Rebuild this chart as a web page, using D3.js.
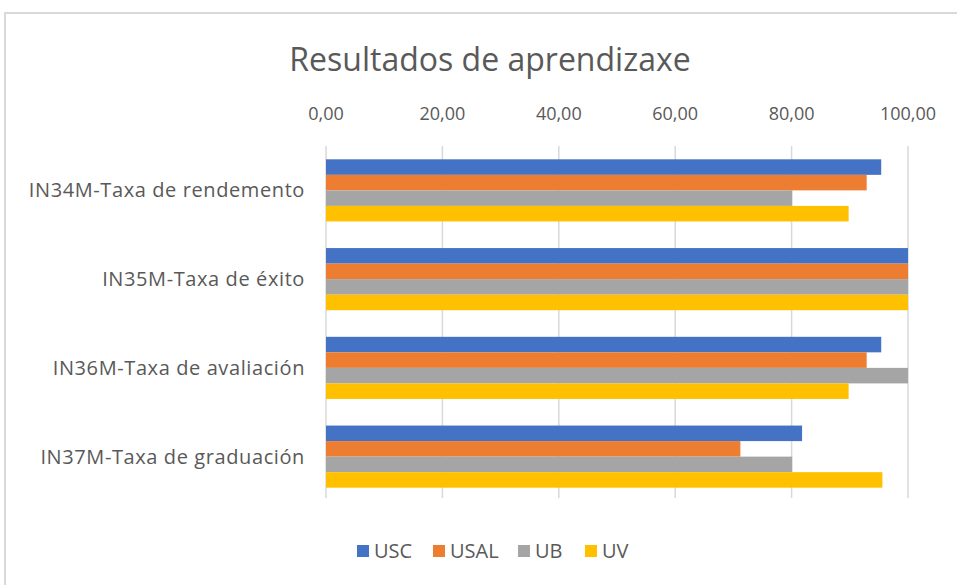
<!DOCTYPE html>
<html>
<head>
<meta charset="utf-8">
<script src="https://cdn.jsdelivr.net/npm/d3@7"></script>
<style>
  body { margin: 0; background: #fff; }
  text { font-family: "Open Sans", "Noto Sans", sans-serif; fill: #595959; }
</style>
</head>
<body>
<div id="chart"></div>
<script>
// data
var categories = ["IN34M-Taxa de rendemento", "IN35M-Taxa de éxito", "IN36M-Taxa de avaliación", "IN37M-Taxa de graduación"];
var series = ["USC", "USAL", "UB", "UV"];
var colors = ["#4472c4", "#ed7d31", "#a5a5a5", "#ffc000"];
var USC  = [95.4, 100, 95.4, 81.8];
var USAL = [92.9, 100, 92.9, 71.2];
var UB   = [80.1, 100, 100, 80.1];
var UV   = [89.8, 100, 89.8, 95.6];
var ticks = [0, 20, 40, 60, 80, 100];

var values = [USC, USAL, UB, UV];
var width = 957, height = 585;
var margin = {top: 146, left: 326, right: 49, bottom: 84};

var svg = d3.select("#chart").append("svg")
    .attr("width", width)
    .attr("height", height);

// frame of the chart area
svg.append("rect")
    .attr("x", 5).attr("y", 13)
    .attr("width", 980).attr("height", 600)
    .attr("fill", "none")
    .attr("stroke", "#d9d9d9")
    .attr("stroke-width", 2);

svg.append("text")
    .attr("x", 490).attr("y", 71)
    .attr("text-anchor", "middle")
    .style("font-size", "32px")
    .text("Resultados de aprendizaxe");

var x = d3.scaleLinear().domain([0, 100]).range([margin.left, width - margin.right]);
var y = d3.scaleBand().domain(categories)
    .range([margin.top, height - margin.bottom])
    .paddingInner(0.3).paddingOuter(0.15);
var ySub = d3.scaleBand().domain(series).range([0, y.bandwidth()]);

// gridlines
svg.append("g").selectAll("line").data(ticks).enter().append("line")
    .attr("x1", d => x(d)).attr("x2", d => x(d))
    .attr("y1", margin.top).attr("y2", height - margin.bottom - 3)
    .attr("stroke", "#d9d9d9").attr("stroke-width", 1.5);

// top axis labels
var fmt = d => d.toFixed(2).replace(".", ",");
svg.append("g").selectAll("text").data(ticks).enter().append("text")
    .attr("x", d => x(d)).attr("y", 120)
    .attr("text-anchor", "middle")
    .style("font-size", "18px")
    .text(fmt);

// bars
var groups = svg.append("g").selectAll("g").data(categories).enter().append("g")
    .attr("transform", d => "translate(0," + y(d) + ")");

groups.selectAll("rect")
    .data((c, ci) => series.map((s, si) => ({s: s, i: si, v: values[si][ci]})))
    .enter().append("rect")
    .attr("x", x(0))
    .attr("y", d => ySub(d.s))
    .attr("width", d => x(d.v) - x(0))
    .attr("height", ySub.bandwidth())
    .attr("fill", d => colors[d.i]);

// category labels
svg.append("g").selectAll("text").data(categories).enter().append("text")
    .attr("x", 305)
    .attr("y", d => y(d) + y.bandwidth() / 2 + 7)
    .attr("text-anchor", "end")
    .style("font-size", "20px")
    .style("letter-spacing", "0.6px")
    .text(d => d);

// legend
var legendX = [357, 433, 518, 585];
var legend = svg.append("g").selectAll("g").data(series).enter().append("g")
    .attr("transform", (d, i) => "translate(" + legendX[i] + ",545)");
legend.append("rect")
    .attr("width", 12).attr("height", 12)
    .attr("fill", (d, i) => colors[i]);
legend.append("text")
    .attr("x", 17).attr("y", 13)
    .style("font-size", "20px")
    .text(d => d);
</script>
</body>
</html>
